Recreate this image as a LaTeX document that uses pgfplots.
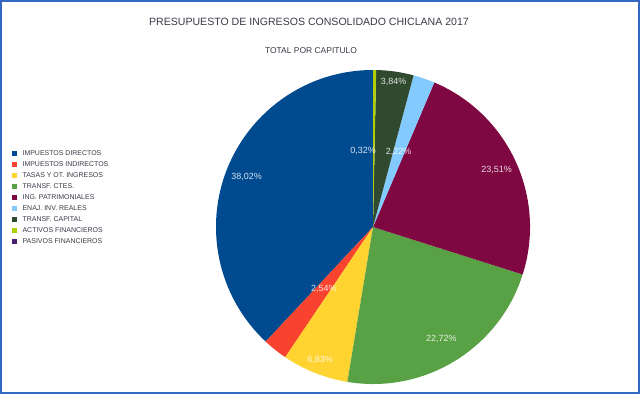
\documentclass[border=0pt]{standalone}
\usepackage{fontspec}
\setmainfont{Liberation Sans}
\usepackage{pgfplots}
\usepackage{pgfplotstable}
\usetikzlibrary{calc}
\pgfplotsset{compat=1.18}
\definecolor{col0}{HTML}{004A90}
\definecolor{col1}{HTML}{F9432E}
\definecolor{col2}{HTML}{FFD330}
\definecolor{col3}{HTML}{58A144}
\definecolor{col4}{HTML}{7F0842}
\definecolor{col5}{HTML}{83CAFF}
\definecolor{col6}{HTML}{2F4A2F}
\definecolor{col7}{HTML}{AECF00}
\definecolor{col8}{HTML}{4B1F6F}
\definecolor{frameblue}{HTML}{3468C0}
\definecolor{txt}{HTML}{3A3A48}
% value, label radius, label angle offset
\pgfplotstableread{
val lr la
38.02 136 0
2.54 79 0
6.83 143 0
22.72 131 0
23.51 136 0
2.22 79 0
3.84 147 0
0.32 77 8
0 0 0
}\piedata
\begin{document}
\begin{tikzpicture}
\begin{axis}[
  scale only axis, width=640bp, height=394bp,
  xmin=0, xmax=640, ymin=0, ymax=394,
  hide axis, clip=false,
  legend cell align=left,
  legend style={at={(axis cs:12,246.5)}, anchor=north west, draw=none, fill=none,
    font=\fontsize{7}{8}\selectfont, text=txt, inner sep=0pt, row sep=0pt,
    nodes={inner sep=0pt, text height=5bp, text depth=0pt, minimum height=11bp},
    /tikz/every odd column/.append style={column sep=6bp}},
  legend image code/.code={\fill[#1] (0bp,-2bp) rectangle (4bp,2bp);},
]
\addlegendimage{col0}\addlegendentry{IMPUESTOS DIRECTOS}
\addlegendimage{col1}\addlegendentry{IMPUESTOS INDIRECTOS}
\addlegendimage{col2}\addlegendentry{TASAS Y OT. INGRESOS}
\addlegendimage{col3}\addlegendentry{TRANSF. CTES.}
\addlegendimage{col4}\addlegendentry{ING. PATRIMONIALES}
\addlegendimage{col5}\addlegendentry{ENAJ. INV. REALES}
\addlegendimage{col6}\addlegendentry{TRANSF. CAPITAL}
\addlegendimage{col7}\addlegendentry{ACTIVOS FINANCIEROS}
\addlegendimage{col8}\addlegendentry{PASIVOS FINANCIEROS}
\pgfplotsextra{
  \pgfplotstablegetrowsof{\piedata}
  \pgfmathtruncatemacro\nrows{\pgfplotsretval-1}
  \xdef\angA{90}
  \foreach \i in {0,...,\nrows}{
    \pgfplotstablegetelem{\i}{val}\of\piedata \let\v\pgfplotsretval
    \pgfmathsetmacro\angB{\angA+3.6*\v}
    \ifdim\v pt>0pt
      \fill[col\i] (axis cs:373,167) -- ++(\angA:157bp) arc[start angle=\angA, end angle=\angB, radius=157bp] -- cycle;
    \fi
    \xdef\angA{\angB}
  }
  \xdef\angA{90}
  \foreach \i in {0,...,\nrows}{
    \pgfplotstablegetelem{\i}{val}\of\piedata \let\v\pgfplotsretval
    \pgfplotstablegetelem{\i}{lr}\of\piedata \let\lr\pgfplotsretval
    \pgfplotstablegetelem{\i}{la}\of\piedata \let\la\pgfplotsretval
    \pgfmathsetmacro\angB{\angA+3.6*\v}
    \pgfmathsetmacro\angM{(\angA+\angB)/2+\la}
    \ifdim\v pt>0pt
      \node[text=white, text opacity=0.85, font=\fontsize{9}{10}\selectfont, inner sep=0pt]
        at ($(axis cs:373,167)+(\angM:\lr bp)$) {\pgfmathprintnumber[use comma,fixed,fixed zerofill,precision=2,assume math mode=true]{\v}\%};
    \fi
    \xdef\angA{\angB}
  }
  \draw[frameblue, line width=2bp] (axis cs:1,1) rectangle (axis cs:639,393);
  \node[text=txt, font=\fontsize{10.6}{12}\selectfont, inner sep=0pt] at (axis cs:309,372) {PRESUPUESTO DE INGRESOS CONSOLIDADO CHICLANA 2017};
  \node[text=txt, font=\fontsize{8.5}{10}\selectfont, inner sep=0pt] at (axis cs:311,343) {TOTAL POR CAPITULO};
}
\end{axis}
\end{tikzpicture}
\end{document}
